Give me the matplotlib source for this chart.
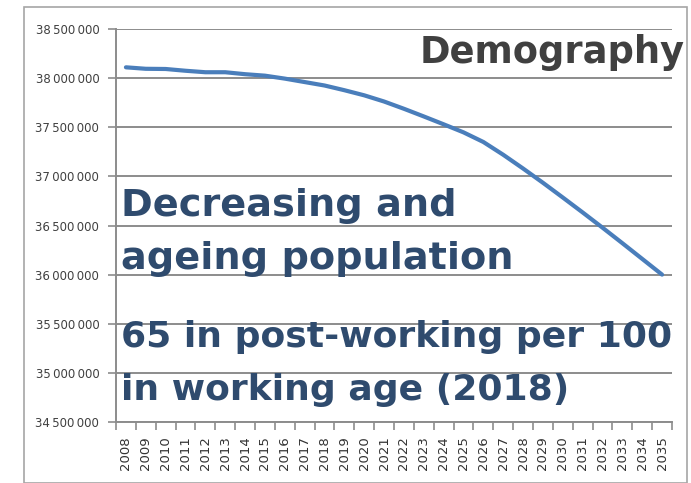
import matplotlib
matplotlib.use("Agg")
import matplotlib.pyplot as plt
from matplotlib.patches import Rectangle
from matplotlib.ticker import FuncFormatter, FixedLocator

# --- data ---
years = list(range(2008, 2036))
population = [
    38110000, 38095000, 38093000, 38075000, 38060000, 38060000, 38040000,
    38025000, 37995000, 37960000, 37925000, 37877000, 37825000, 37762000,
    37688000, 37610000, 37530000, 37448000, 37350000, 37220000, 37080000,
    36935000, 36785000, 36633000, 36478000, 36320000, 36160000, 36000000,
]
y_ticks = list(range(34500000, 38500001, 500000))

title_text = "Demography"
text_block1 = ["Decreasing and", "ageing population"]
text_block2 = ["65 in post-working per 100", "in working age (2018)"]

W, H = 691, 483
fig = plt.figure(figsize=(W / 100, H / 100), dpi=100)

# outer frame of the slide picture
fig.patches.append(Rectangle((24 / W, 0), (687 - 24) / W, 1 - 7 / H,
                             transform=fig.transFigure, fill=False,
                             edgecolor="#a6a6a6", linewidth=1.2))

ax = fig.add_axes([116 / W, 1 - 422 / H, (672 - 116) / W, (422 - 29) / H])

x = list(range(len(years)))
ax.plot(x, population, color="#4a7ebb", linewidth=3, solid_capstyle="round",
        solid_joinstyle="round", zorder=3)

ax.set_xlim(-0.5, len(years) - 0.5)
ax.set_ylim(y_ticks[0], y_ticks[-1])
ax.set_yticks(y_ticks)
ax.yaxis.set_major_formatter(FuncFormatter(
    lambda v, p: f"{int(v):,}".replace(",", "\u2009")))
ax.grid(axis="y", color="#8c8c8c", linewidth=1.4)
ax.set_axisbelow(True)

ax.set_xticks(x)
ax.set_xticklabels([str(yr) for yr in years], rotation=90, fontsize=9.5,
                   color="#333333")
ax.xaxis.set_minor_locator(FixedLocator([i - 0.5 for i in range(len(years) + 1)]))
ax.tick_params(axis="x", which="major", length=0, pad=10)
ax.tick_params(axis="x", which="minor", length=6, width=1.2, color="#8c8c8c",
               direction="out")
ax.tick_params(axis="y", length=6, width=1.2, color="#8c8c8c", labelsize=8.5,
               labelcolor="#404040", pad=6)

for s in ("top", "right"):
    ax.spines[s].set_visible(False)
for s in ("left", "bottom"):
    ax.spines[s].set_color("#8c8c8c")
    ax.spines[s].set_linewidth(1.4)

# overlaid slide text
fig.text(685 / W, 1 - 63 / H, title_text, ha="right", va="baseline",
         fontsize=26.5, fontweight="bold", color="#404040")

blue = "#2f4b6e"
for txt, yb in zip(text_block1, (216, 269)):
    fig.text(121 / W, 1 - yb / H, txt, ha="left", va="baseline",
             fontsize=27.5, fontweight="bold", color=blue)
for txt, yb in zip(text_block2, (347, 400)):
    fig.text(121 / W, 1 - yb / H, txt, ha="left", va="baseline",
             fontsize=26, fontweight="bold", color=blue)

fig.savefig("out.png", dpi=100)
